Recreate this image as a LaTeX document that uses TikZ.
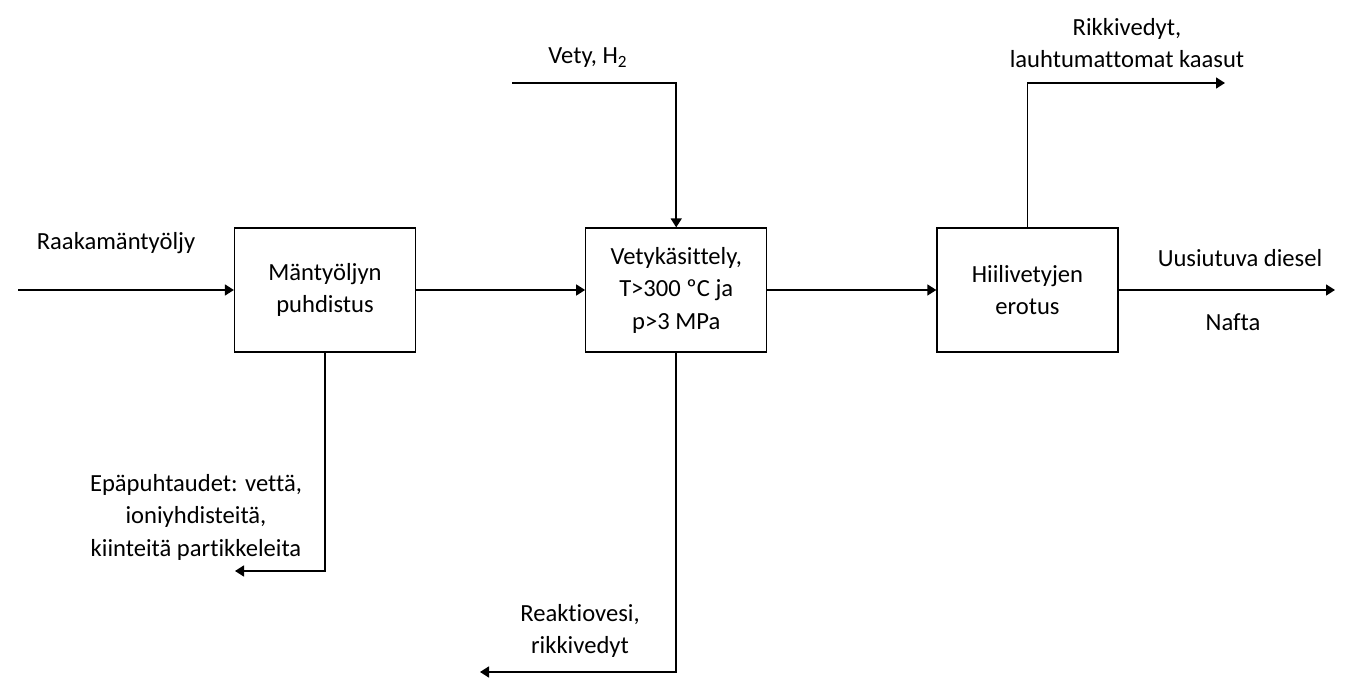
\documentclass[tikz,border=0pt]{standalone}
\usepackage{fontspec}
\setmainfont{Carlito}[Ligatures=NoCommon]
\usetikzlibrary{positioning,arrows.meta}

\begin{document}
\begin{tikzpicture}[>={Triangle[length=1.8mm,width=2.2mm]}, line width=0.9pt, node distance=3.38cm,
	every node/.style={font=\fontsize{14}{18.5}\selectfont, align=center},
	vaihe/.style={draw, line width=0.7pt, minimum width=3.62cm, minimum height=2.48cm, inner sep=2pt}]
	\useasboundingbox (0,0) rectangle (26.98,-13.58);

	\node (Puhdistus) [vaihe] at (6.5,-5.8) {Mäntyöljyn\\puhdistus};
	\node (Vetykasittely) [vaihe, right=of Puhdistus] {Vetykäsittely,\\T>300 ºC ja\\p>3 MPa};
	\node (Erotus) [vaihe, right=of Vetykasittely] {Hiilivetyjen\\erotus};

	\coordinate (Syotto) at (0.36,-5.8);
	\coordinate (VetyAlku) at (10.24,-1.66);
	\coordinate (KaasuLoppu) at (24.5,-1.66);
	\coordinate (TuoteLoppu) at (26.7,-5.8);
	\coordinate (EpapuhtausLoppu) at (4.7,-11.42);
	\coordinate (ReaktioLoppu) at (9.6,-13.44);

	\node (Raakamantyoljy) at (2.32,-4.86) {Raakamäntyöljy};
	\node (Vety) at (11.76,-1.16) {Vety, H\textsubscript{2}};
	\node (Kaasut) at (22.54,-0.86) {Rikkivedyt,\\lauhtumattomat kaasut};
	\node (Diesel) at (24.8,-5.16) {Uusiutuva diesel};
	\node (Nafta) at (24.66,-6.44) {Nafta};
	\node (Epapuhtaudet) at (3.92,-10.34) {Epäpuhtaudet: vettä,\\ioniyhdisteitä,\\kiinteitä partikkeleita};
	\node (Reaktiovesi) at (11.6,-12.62) {Reaktiovesi,\\rikkivedyt};

	\draw[->] (Syotto) -- (Puhdistus);
	\draw[->] (Puhdistus) -- (Vetykasittely);
	\draw[->] (Vetykasittely) -- (Erotus);
	\draw[->] (Erotus) -- (TuoteLoppu);
	\draw[->] (VetyAlku) -| (Vetykasittely);
	\draw[->] (Erotus) |- (KaasuLoppu);
	\draw[->] (Puhdistus) |- (EpapuhtausLoppu);
	\draw[->] (Vetykasittely) |- (ReaktioLoppu);
\end{tikzpicture}
\end{document}
